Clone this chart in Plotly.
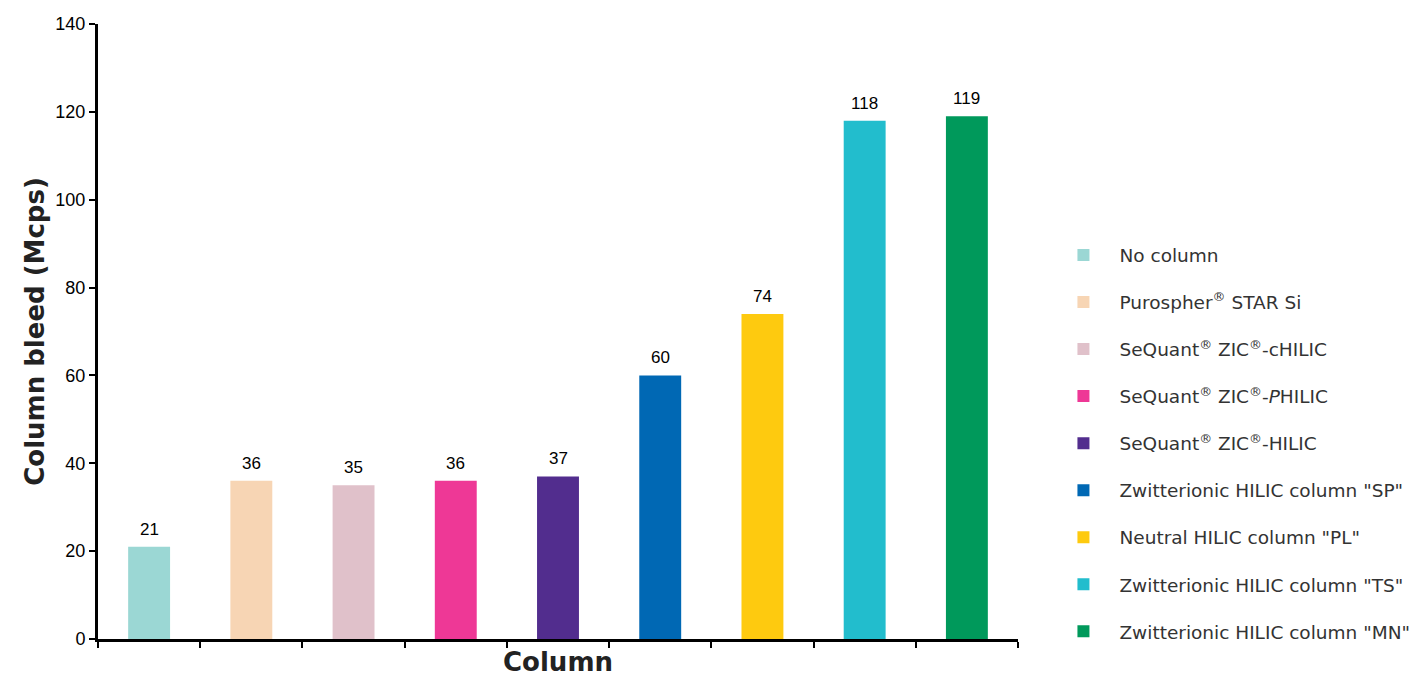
import plotly.graph_objects as go

categories = [
    "No column",
    "Purospher<sup>®</sup> STAR Si",
    "SeQuant<sup>®</sup> ZIC<sup>®</sup>-cHILIC",
    "SeQuant<sup>®</sup> ZIC<sup>®</sup>-<i>P</i>HILIC",
    "SeQuant<sup>®</sup> ZIC<sup>®</sup>-HILIC",
    'Zwitterionic HILIC column "SP"',
    'Neutral HILIC column "PL"',
    'Zwitterionic HILIC column "TS"',
    'Zwitterionic HILIC column "MN"',
]
values = [21, 36, 35, 36, 37, 60, 74, 118, 119]
colors = ["#9BD7D4", "#F7D5B4", "#E0C1CA", "#EE3896", "#522D8E",
          "#0068B4", "#FECA0F", "#22BDCD", "#00995B"]
y_ticks = [0, 20, 40, 60, 80, 100, 120, 140]

fig = go.Figure()
for i, (c, v, col) in enumerate(zip(categories, values, colors)):
    fig.add_trace(go.Bar(
        x=[i], y=[v], name=c, marker=dict(color=col, line=dict(width=0)),
        width=0.41, legendgroup=f"g{i}",
    ))
    fig.add_annotation(
        x=i, y=v, text=str(v), showarrow=False, yanchor="bottom", yshift=6,
        font=dict(family="Liberation Sans, Arial", size=17, color="black"),
    )

fig.update_layout(
    width=1420, height=677,
    margin=dict(l=98, r=402, t=24, b=38, autoexpand=False),
    plot_bgcolor="white", paper_bgcolor="white",
    barmode="overlay",
    showlegend=True,
    legend=dict(
        x=1.032, y=0.318, xanchor="left", yanchor="middle",
        font=dict(family="DejaVu Sans, Verdana", size=18.5, color="#333333"),
        tracegroupgap=20, itemwidth=62,
        bgcolor="rgba(0,0,0,0)",
    ),
    xaxis=dict(
        range=[-0.5, 8.5], tickvals=[i - 0.5 for i in range(10)],
        ticktext=[""] * 10, ticks="outside", ticklen=6, tickwidth=2,
        tickcolor="black", showline=True, linecolor="black", linewidth=3,
        showgrid=False, zeroline=False, automargin=False,
        title=dict(text="<b>Column</b>", font=dict(family="DejaVu Sans, Verdana", size=26, color="#222222"), standoff=10),
    ),
    yaxis=dict(
        range=[0, 140], tickvals=y_ticks, ticks="outside", ticklen=6, tickwidth=2,
        tickcolor="black", showline=True, linecolor="black", linewidth=3,
        showgrid=False, zeroline=False, automargin=False,
        tickfont=dict(family="Liberation Sans, Arial", size=18, color="black"),
        title=dict(text="<b>Column bleed (Mcps)</b>", font=dict(family="DejaVu Sans, Verdana", size=26, color="#222222"), standoff=4),
    ),
)

fig.write_html("out.html", config={"displayModeBar": False},
               post_script="document.body.style.margin='0px';")
